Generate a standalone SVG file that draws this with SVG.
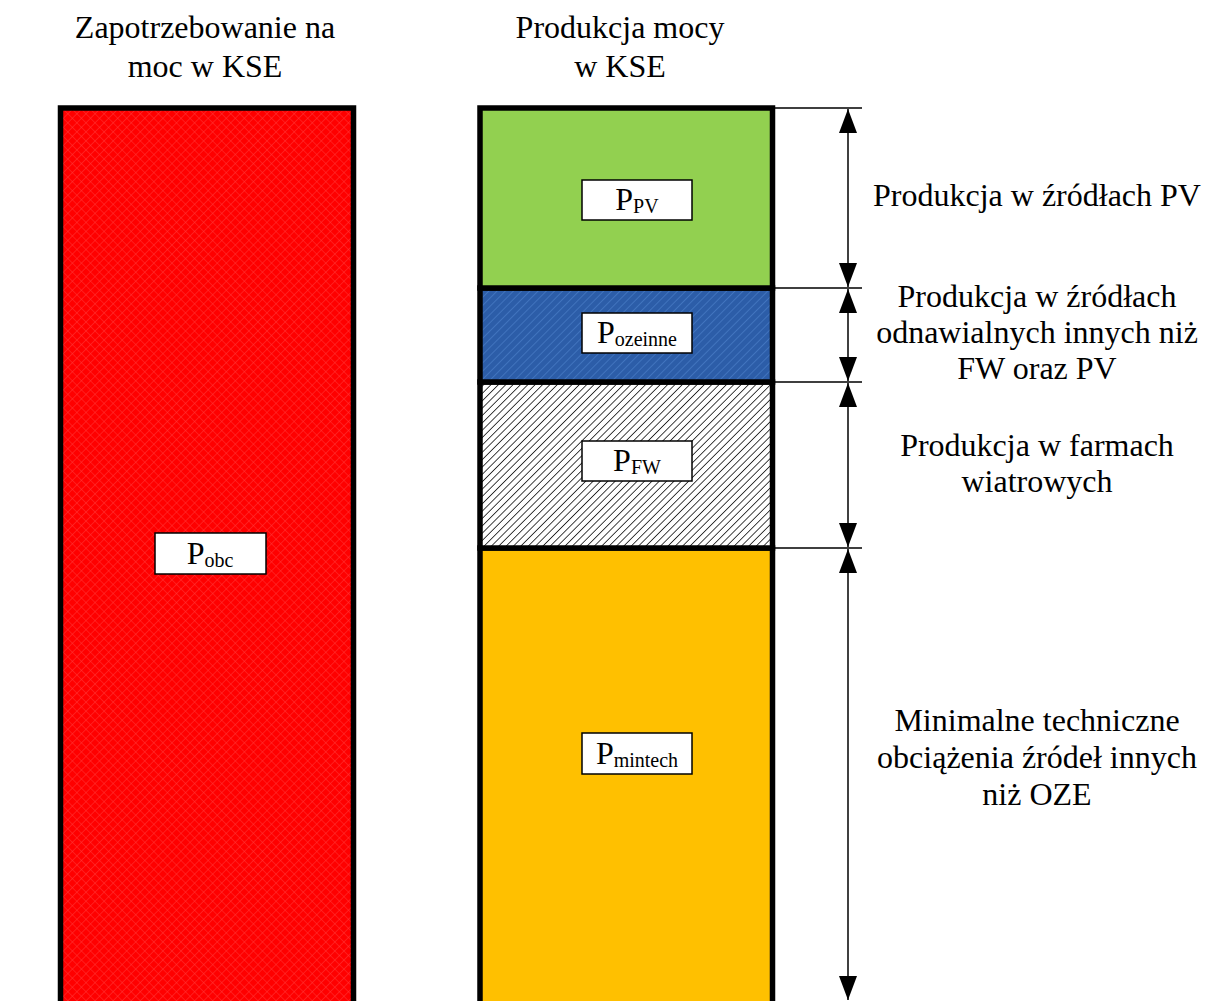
<svg xmlns="http://www.w3.org/2000/svg" width="1207" height="1001" viewBox="0 0 1207 1001">
<style>
text{font-family:"Liberation Serif","Times New Roman",serif;fill:#000;}
.t{font-size:32px;text-anchor:middle;}
.sub{font-size:20px;}
.lbl{fill:#fff;stroke:#000;stroke-width:1.5;}
.col{stroke:#000;stroke-width:5.5;}
.ext{stroke:#000;stroke-width:1.5;fill:none;}
.dim{stroke:#000;stroke-width:1.5;fill:none;marker-start:url(#ah);marker-end:url(#ah);}
</style>
<defs>
<pattern id="pRed" width="6.4" height="6.4" patternUnits="userSpaceOnUse" patternTransform="rotate(45)">
<rect width="6.4" height="6.4" fill="#FF0000"/>
<path d="M0 0V6.4M0 0H6.4" stroke="#FF3A3A" stroke-width="1"/>
</pattern>
<pattern id="pBlue" width="5.8" height="10" patternUnits="userSpaceOnUse" patternTransform="rotate(45)">
<rect width="5.8" height="10" fill="#2C5DA8"/>
<path d="M0 0V10" stroke="#4E82CC" stroke-width="1.2"/>
</pattern>
<pattern id="pFW" width="5.2" height="10" patternUnits="userSpaceOnUse" patternTransform="rotate(45)">
<rect width="5.2" height="10" fill="#fff"/>
<path d="M0 0V10" stroke="#222" stroke-width="1.7"/>
</pattern>
<marker id="ah" markerUnits="userSpaceOnUse" markerWidth="24" markerHeight="18" viewBox="0 0 24 18" refX="24" refY="9" orient="auto-start-reverse">
<path d="M0 0L24 9L0 18Z" fill="#000"/>
</marker>
</defs>

<g id="titles">
<text class="t" x="205" y="38">Zapotrzebowanie na</text>
<text class="t" x="205" y="77">moc w KSE</text>
<text class="t" x="620" y="38">Produkcja mocy</text>
<text class="t" x="620" y="77">w KSE</text>
</g>

<g id="node-obc">
<rect class="col" x="60.5" y="108" width="293" height="910" fill="url(#pRed)"/>
<rect class="lbl" x="155" y="533" width="111" height="41"/>
<text class="t" x="210" y="564">P<tspan class="sub" dy="3">obc</tspan></text>
</g>

<g id="node-mintech">
<rect class="col" x="480" y="548" width="292.5" height="470" fill="#FFC000"/>
<rect class="lbl" x="582" y="733" width="110" height="41"/>
<text class="t" x="637" y="764">P<tspan class="sub" dy="3">mintech</tspan></text>
</g>

<g id="node-fw">
<rect class="col" x="480" y="382" width="292.5" height="166" fill="url(#pFW)"/>
<rect class="lbl" x="582" y="441" width="110" height="40"/>
<text class="t" x="637" y="471">P<tspan class="sub" dy="3">FW</tspan></text>
</g>

<g id="node-ozeinne">
<rect class="col" x="480" y="288" width="292.5" height="94" fill="url(#pBlue)"/>
<rect class="lbl" x="582" y="313" width="110" height="40"/>
<text class="t" x="637" y="343">P<tspan class="sub" dy="3">ozeinne</tspan></text>
</g>

<g id="node-pv">
<rect class="col" x="480" y="108" width="292.5" height="180" fill="#92D050"/>
<rect class="lbl" x="582" y="180" width="110" height="40"/>
<text class="t" x="637" y="210">P<tspan class="sub" dy="3">PV</tspan></text>
</g>

<g id="connectors">
<path class="ext" d="M775 108H862M775 288H862M775 382H862M775 548H862"/>
<path class="dim" d="M848 109V287"/>
<path class="dim" d="M848 289V381"/>
<path class="dim" d="M848 383V547"/>
<path class="dim" d="M848 549V1000"/>
</g>

<g id="labels">
<text class="t" x="1037" y="206">Produkcja w źródłach PV</text>
<text class="t" x="1037" y="307">Produkcja w źródłach</text>
<text class="t" x="1037" y="343">odnawialnych innych niż</text>
<text class="t" x="1037" y="379">FW oraz PV</text>
<text class="t" x="1037" y="456">Produkcja w farmach</text>
<text class="t" x="1037" y="492">wiatrowych</text>
<text class="t" x="1037" y="731">Minimalne techniczne</text>
<text class="t" x="1037" y="768">obciążenia źródeł innych</text>
<text class="t" x="1037" y="805">niż OZE</text>
</g>
</svg>
